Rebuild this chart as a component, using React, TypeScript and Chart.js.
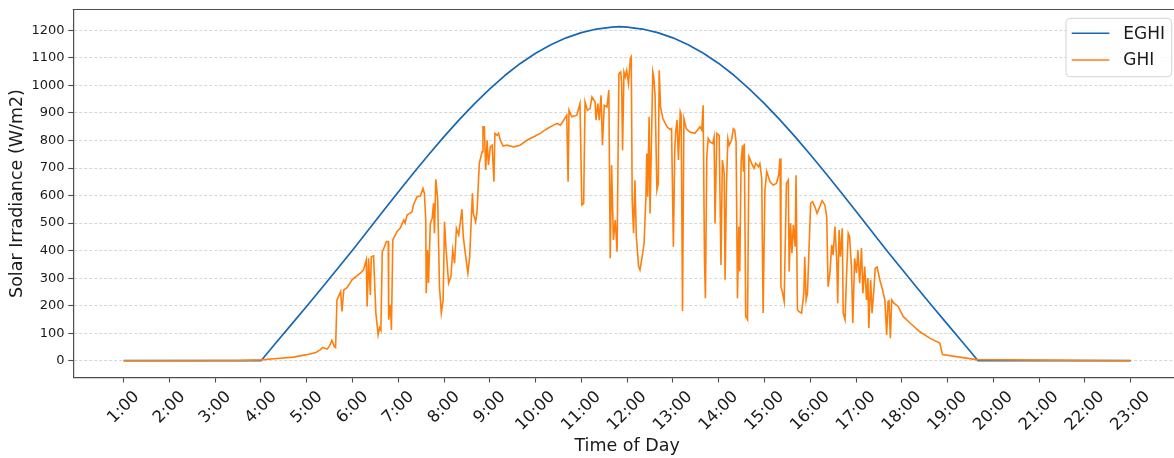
import { useEffect, useRef } from 'react';
import { Chart, registerables } from 'chart.js';

Chart.register(...registerables);

// ---- data ----
const HOUR_TICKS = [1, 2, 3, 4, 5, 6, 7, 8, 9, 10, 11, 12, 13, 14, 15, 16, 17, 18, 19, 20, 21, 22, 23];
const Y_TICKS = [0, 100, 200, 300, 400, 500, 600, 700, 800, 900, 1000, 1100, 1200];

const EGHI_TIMES = [
  '1:00', '4:00', '4:20', '4:40', '5:00', '5:20', '5:40', '6:00', '6:20', '6:40', '7:00', '7:20', '7:40',
  '8:00', '8:20', '8:40', '9:00', '9:20', '9:40', '10:00', '10:20', '10:40', '11:00', '11:20', '11:40',
  '11:50', '12:00', '12:20', '12:40', '13:00', '13:20', '13:40', '14:00', '14:20', '14:40', '15:00',
  '15:20', '15:40', '16:00', '16:20', '16:40', '17:00', '17:20', '17:40', '18:00', '18:20', '18:40',
  '19:00', '19:20', '19:40', '23:00',
];
const EGHI_VALUES = [
  0, 0, 66, 132, 198, 265, 333, 401, 472, 543, 613, 682, 749,
  814, 876, 934, 988, 1037, 1080, 1117, 1148, 1173, 1192, 1205, 1212,
  1214, 1212, 1205, 1192, 1173, 1148, 1117, 1080, 1037, 988, 934,
  876, 814, 749, 682, 613, 543, 472, 401, 333, 265, 198,
  132, 66, 0, 0,
];

const GHI_HOURS = [
  1.0, 3.5, 4.0, 4.35, 4.71, 5.0, 5.2, 5.3, 5.35, 5.45, 5.5, 5.55, 5.6, 5.63,
  5.66, 5.74, 5.77, 5.81, 5.88, 5.99, 6.17, 6.24, 6.3, 6.32, 6.35, 6.39, 6.41, 6.46,
  6.51, 6.56, 6.59, 6.62, 6.65, 6.68, 6.74, 6.78, 6.79, 6.83, 6.85, 6.88, 6.97, 7.04,
  7.12, 7.15, 7.19, 7.3, 7.33, 7.41, 7.48, 7.54, 7.57, 7.6, 7.61, 7.64, 7.66, 7.7,
  7.74, 7.77, 7.79, 7.82, 7.86, 7.9, 7.94, 7.98, 8.01, 8.04, 8.1, 8.15, 8.19, 8.23,
  8.27, 8.32, 8.39, 8.42, 8.46, 8.52, 8.56, 8.58, 8.62, 8.64, 8.69, 8.72, 8.77, 8.83,
  8.85, 8.88, 8.91, 8.94, 8.97, 9.01, 9.05, 9.09, 9.11, 9.16, 9.19, 9.23, 9.29, 9.37,
  9.52, 9.66, 9.81, 9.95, 10.1, 10.25, 10.39, 10.47, 10.54, 10.6, 10.68, 10.71, 10.73, 10.79,
  10.9, 10.97, 11.01, 11.05, 11.08, 11.13, 11.19, 11.23, 11.3, 11.32, 11.36, 11.39, 11.43, 11.46,
  11.5, 11.56, 11.6, 11.63, 11.66, 11.7, 11.74, 11.78, 11.82, 11.86, 11.88, 11.9, 11.93, 11.96,
  11.99, 12.03, 12.07, 12.09, 12.11, 12.14, 12.17, 12.2, 12.25, 12.28, 12.34, 12.37, 12.41, 12.43,
  12.45, 12.48, 12.5, 12.54, 12.56, 12.58, 12.61, 12.65, 12.68, 12.7, 12.73, 12.78, 12.87, 12.94,
  12.97, 13.01, 13.04, 13.06, 13.09, 13.12, 13.16, 13.18, 13.21, 13.24, 13.29, 13.37, 13.48, 13.56,
  13.59, 13.63, 13.66, 13.69, 13.71, 13.74, 13.77, 13.81, 13.87, 13.9, 13.92, 13.96, 14.01, 14.05,
  14.08, 14.12, 14.14, 14.17, 14.2, 14.23, 14.28, 14.32, 14.35, 14.38, 14.41, 14.44, 14.46, 14.49,
  14.52, 14.54, 14.56, 14.59, 14.63, 14.66, 14.72, 14.77, 14.81, 14.87, 14.9, 14.94, 14.97, 15.01,
  15.05, 15.12, 15.19, 15.26, 15.31, 15.34, 15.36, 15.39, 15.43, 15.48, 15.52, 15.54, 15.57, 15.6,
  15.63, 15.67, 15.69, 15.72, 15.75, 15.81, 15.86, 15.88, 15.91, 15.94, 15.98, 16.01, 16.05, 16.1,
  16.15, 16.21, 16.26, 16.32, 16.36, 16.39, 16.43, 16.47, 16.5, 16.54, 16.58, 16.6, 16.63, 16.66,
  16.7, 16.72, 16.76, 16.79, 16.83, 16.86, 16.9, 16.93, 16.97, 17.01, 17.04, 17.08, 17.12, 17.15,
  17.19, 17.23, 17.26, 17.28, 17.32, 17.35, 17.39, 17.42, 17.46, 17.52, 17.58, 17.63, 17.67, 17.7,
  17.72, 17.75, 17.78, 17.83, 17.92, 18.03, 18.18, 18.39, 18.61, 18.83, 18.89, 19.63, 23.0,
];
const GHI_VALUES = [
  0, 1, 3, 8, 13, 22, 30, 40, 48, 42, 55, 74, 52, 48,
  221, 251, 179, 257, 265, 294, 318, 330, 366, 197, 372, 239, 377, 381,
  174, 94, 120, 110, 396, 406, 433, 433, 149, 203, 112, 439, 469, 481,
  511, 500, 529, 541, 566, 596, 598, 626, 608, 511, 245, 402, 282, 499,
  517, 572, 463, 659, 590, 269, 173, 221, 505, 414, 282, 306, 402, 354,
  481, 457, 550, 451, 396, 318, 378, 457, 608, 535, 505, 541, 717, 759,
  850, 850, 693, 801, 711, 777, 783, 650, 826, 819, 826, 801, 780, 783,
  777, 783, 801, 813, 826, 843, 856, 862, 856, 870, 892, 650, 910, 886,
  892, 934, 566, 572, 940, 910, 916, 958, 940, 874, 934, 874, 964, 783,
  928, 922, 983, 372, 711, 439, 511, 396, 1043, 1049, 1007, 765, 1049, 1031,
  1055, 1007, 1098, 1104, 584, 463, 656, 451, 342, 330, 391, 427, 596, 753,
  596, 886, 535, 874, 1049, 1031, 964, 620, 644, 1055, 922, 880, 850, 840,
  843, 414, 765, 831, 874, 729, 904, 892, 181, 880, 843, 831, 826, 843,
  850, 838, 928, 366, 227, 741, 807, 795, 789, 813, 499, 826, 819, 348,
  729, 681, 294, 632, 807, 783, 801, 843, 838, 795, 227, 487, 324, 723,
  783, 687, 789, 161, 149, 741, 717, 699, 717, 705, 716, 663, 173, 620,
  687, 650, 638, 644, 674, 735, 269, 251, 215, 644, 656, 324, 499, 391,
  493, 414, 674, 185, 179, 173, 245, 378, 221, 245, 439, 572, 578, 560,
  535, 560, 581, 566, 523, 269, 318, 421, 384, 487, 360, 209, 475, 378,
  481, 173, 149, 294, 463, 451, 342, 137, 372, 318, 402, 282, 409, 245,
  342, 221, 300, 119, 294, 173, 257, 336, 340, 294, 257, 221, 94, 215,
  221, 82, 221, 209, 197, 161, 137, 106, 82, 64, 22, 4, 0,
];

// ---- style ----
const BLUE = '#1668b3';
const ORANGE = '#ff7f0e';
const AXIS = '#4d4d4d';
const TEXT = '#1a1a1a';
const GRID = 'rgba(0,0,0,0.2)';
const FONT = "'DejaVu Sans', sans-serif";

const toHours = (s: string) => {
  const [h, m] = s.split(':').map(Number);
  return h + m / 60;
};

const mplPlugin = {
  id: 'mplDecor',
  afterDraw(chart: any) {
    const { ctx, chartArea: ca } = chart;
    const xs = chart.scales.x;
    ctx.save();
    // top spine
    ctx.strokeStyle = AXIS;
    ctx.lineWidth = 1.2;
    ctx.beginPath();
    ctx.moveTo(ca.left - 0.6, ca.top);
    ctx.lineTo(ca.right + 2, ca.top);
    ctx.stroke();

    // x tick labels, rotated 45 deg, centred on tick (matplotlib style)
    ctx.font = `16.5px ${FONT}`;
    ctx.fillStyle = TEXT;
    ctx.textAlign = 'right';
    ctx.textBaseline = 'middle';
    const y0 = ca.bottom + 10.5;
    const H = 16.5 * 1.1;
    HOUR_TICKS.forEach((v) => {
      const label = `${v}:00`;
      const px = xs.getPixelForValue(v);
      const L = ctx.measureText(label).width;
      ctx.save();
      ctx.translate(px + 0.3536 * L, y0 + 0.3536 * H);
      ctx.rotate(-Math.PI / 4);
      ctx.fillText(label, 0, 0);
      ctx.restore();
    });

    // legend box
    const right = ca.right - 9.3;
    const left = right - 105.7;
    const top = ca.top + 8.8;
    const bottom = top + 58.4;
    const r = 4;
    ctx.beginPath();
    ctx.moveTo(left + r, top);
    ctx.lineTo(right - r, top);
    ctx.arcTo(right, top, right, top + r, r);
    ctx.lineTo(right, bottom - r);
    ctx.arcTo(right, bottom, right - r, bottom, r);
    ctx.lineTo(left + r, bottom);
    ctx.arcTo(left, bottom, left, bottom - r, r);
    ctx.lineTo(left, top + r);
    ctx.arcTo(left, top, left + r, top, r);
    ctx.closePath();
    ctx.fillStyle = 'rgba(255,255,255,0.8)';
    ctx.fill();
    ctx.strokeStyle = '#d3d3d3';
    ctx.lineWidth = 1;
    ctx.stroke();

    const ds = chart.data.datasets;
    const rows = [top + 15, top + 41.7];
    ctx.font = `17px ${FONT}`;
    ctx.textAlign = 'left';
    ctx.textBaseline = 'middle';
    ds.forEach((d: any, i: number) => {
      const y = rows[i];
      ctx.strokeStyle = d.borderColor;
      ctx.lineWidth = 1.6;
      ctx.beginPath();
      ctx.moveTo(left + 5.7, y);
      ctx.lineTo(left + 43.3, y);
      ctx.stroke();
      ctx.fillStyle = TEXT;
      ctx.fillText(d.label, left + 57.3, y + 1);
    });
    ctx.restore();
  },
};

export default function App() {
  const ref = useRef<HTMLCanvasElement>(null);

  useEffect(() => {
    if (!ref.current) return;
    Chart.defaults.font.family = FONT;
    const chart = new Chart(ref.current, {
      type: 'line',
      data: {
        datasets: [
          {
            label: 'EGHI',
            data: EGHI_TIMES.map((t, i) => ({ x: toHours(t), y: EGHI_VALUES[i] })),
            borderColor: BLUE,
            borderWidth: 1.7,
            pointRadius: 0,
            tension: 0,
            borderJoinStyle: 'round',
            order: 1,
          },
          {
            label: 'GHI',
            data: GHI_HOURS.map((h, i) => ({ x: h, y: GHI_VALUES[i] })),
            borderColor: ORANGE,
            borderWidth: 1.6,
            pointRadius: 0,
            tension: 0,
            order: 0,
          },
        ],
      },
      options: {
        animation: false,
        responsive: true,
        maintainAspectRatio: false,
        layout: { padding: { top: 9.5, left: 0, right: 0, bottom: 0 } },
        plugins: { legend: { display: false }, tooltip: { enabled: false } },
        scales: {
          x: {
            type: 'linear',
            min: -0.1,
            max: 24.1,
            afterBuildTicks: (s: any) => {
              s.ticks = HOUR_TICKS.map((v) => ({ value: v }));
            },
            afterFit: (s: any) => {
              s.height = 80.5;
              s.paddingLeft = 0;
              s.paddingRight = 0;
            },
            ticks: { display: false, callback: (v: any) => `${v}:00` },
            grid: {
              drawOnChartArea: false,
              drawTicks: true,
              tickLength: 5,
              tickColor: AXIS,
              tickWidth: 1.1,
            },
            border: { color: AXIS, width: 1.2 },
            title: {
              display: true,
              text: 'Time of Day',
              color: TEXT,
              font: { size: 17.5, family: FONT },
              padding: { top: 0, bottom: 1 },
            },
          },
          y: {
            type: 'linear',
            min: -61,
            max: 1276,
            afterBuildTicks: (s: any) => {
              s.ticks = Y_TICKS.map((v) => ({ value: v }));
            },
            afterFit: (s: any) => {
              s.width = 73.3;
              s.paddingTop = 0;
              s.paddingBottom = 0;
            },
            ticks: {
              color: TEXT,
              font: { size: 13, family: FONT },
              padding: 3.7,
              callback: (v: any) => String(v),
            },
            grid: {
              color: GRID,
              lineWidth: 0.8,
              tickLength: 5,
              tickColor: AXIS,
              tickWidth: 1.1,
            },
            border: { color: AXIS, width: 1.2, dash: [3, 2] },
            title: {
              display: true,
              text: 'Solar Irradiance (W/m2)',
              color: TEXT,
              font: { size: 17.5, family: FONT },
              padding: { top: 6.5, bottom: 0 },
            },
          },
        },
      },
      plugins: [mplPlugin],
    } as any);
    return () => chart.destroy();
  }, []);

  return (
    <div
      style={{
        position: 'fixed',
        left: 0,
        top: 0,
        width: 1174,
        height: 458,
        overflow: 'hidden',
        background: '#fff',
      }}
    >
      <div style={{ width: 1181, height: 458, position: 'relative' }}>
        <canvas ref={ref} />
      </div>
    </div>
  );
}
